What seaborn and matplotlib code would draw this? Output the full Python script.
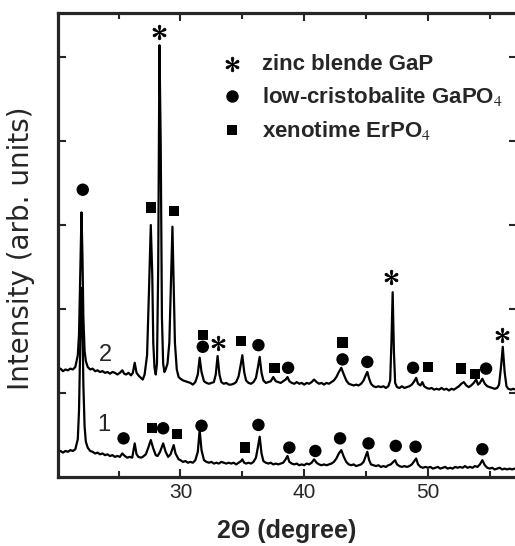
import matplotlib
matplotlib.use("Agg")
import matplotlib.pyplot as plt
import seaborn as sns
import pandas as pd

# ---------------- data ----------------
x2 = [20.1, 20.3, 20.5, 20.7, 20.9, 21.1, 21.3, 21.5, 21.7, 21.8, 21.9, 22.0, 22.08, 22.15, 22.25, 22.35,
      22.5, 22.7, 22.9, 23.1, 23.3, 23.5, 23.7, 23.9, 24.1, 24.3, 24.5, 24.7, 24.9, 25.1, 25.3, 25.45,
      25.6, 25.8, 26.0, 26.15, 26.3, 26.45, 26.6, 26.8, 26.95, 27.1, 27.3, 27.45, 27.6, 27.72, 27.8, 27.9,
      28.0, 28.1, 28.2, 28.3, 28.4, 28.5, 28.6, 28.7, 28.8, 28.95, 29.1, 29.25, 29.35, 29.45, 29.55, 29.7,
      29.85, 30.0, 30.2, 30.4, 30.6, 30.8, 31.0, 31.2, 31.4, 31.55, 31.7, 31.9, 32.1, 32.3, 32.5, 32.7,
      32.85, 33.0, 33.15, 33.3, 33.5, 33.7, 33.9, 34.1, 34.3, 34.5, 34.7, 34.85, 35.0, 35.15, 35.3, 35.5,
      35.7, 35.9, 36.1, 36.25, 36.4, 36.55, 36.7, 36.9, 37.1, 37.3, 37.5, 37.7, 37.9, 38.1, 38.3, 38.5,
      38.65, 38.8, 39.0, 39.2, 39.4, 39.6, 39.8, 40.0, 40.2, 40.4, 40.6, 40.8, 41.0, 41.2, 41.4, 41.6,
      41.8, 42.0, 42.2, 42.4, 42.6, 42.8, 43.0, 43.2, 43.4, 43.6, 43.8, 44.0, 44.2, 44.4, 44.6, 44.8,
      45.0, 45.1, 45.25, 45.4, 45.6, 45.8, 46.0, 46.2, 46.4, 46.6, 46.8, 46.95, 47.05, 47.15, 47.25, 47.35,
      47.5, 47.7, 47.9, 48.1, 48.3, 48.5, 48.7, 48.9, 49.05, 49.2, 49.4, 49.55, 49.7, 49.9, 50.1, 50.3,
      50.5, 50.7, 50.9, 51.1, 51.3, 51.5, 51.7, 51.9, 52.1, 52.3, 52.5, 52.7, 52.9, 53.1, 53.3, 53.5,
      53.7, 53.9, 54.05, 54.2, 54.4, 54.6, 54.8, 55.0, 55.2, 55.4, 55.6, 55.75, 55.9, 56.05, 56.2, 56.35,
      56.5, 56.7, 56.9, 57.1, 57.2]
y2 = [1.27, 1.29, 1.26, 1.28, 1.27, 1.29, 1.28, 1.31, 1.45, 1.70, 2.40, 3.15, 2.60, 1.90, 1.50, 1.38,
      1.31, 1.28, 1.29, 1.26, 1.27, 1.25, 1.26, 1.24, 1.25, 1.23, 1.25, 1.24, 1.22, 1.24, 1.27, 1.23,
      1.22, 1.24, 1.21, 1.24, 1.36, 1.24, 1.21, 1.18, 1.16, 1.22, 1.45, 2.20, 3.00, 2.40, 1.60, 1.30,
      1.22, 1.35, 2.50, 5.14, 4.00, 1.90, 1.35, 1.25, 1.28, 1.35, 1.60, 2.40, 2.98, 2.30, 1.60, 1.28,
      1.19, 1.17, 1.15, 1.14, 1.13, 1.12, 1.10, 1.13, 1.22, 1.42, 1.25, 1.14, 1.12, 1.11, 1.12, 1.13,
      1.22, 1.44, 1.22, 1.13, 1.11, 1.12, 1.10, 1.10, 1.11, 1.13, 1.20, 1.32, 1.45, 1.25, 1.15, 1.12,
      1.11, 1.13, 1.18, 1.30, 1.43, 1.24, 1.15, 1.12, 1.13, 1.14, 1.19, 1.14, 1.13, 1.12, 1.14, 1.16,
      1.19, 1.14, 1.12, 1.11, 1.13, 1.11, 1.12, 1.10, 1.12, 1.11, 1.13, 1.16, 1.13, 1.11, 1.12, 1.10,
      1.12, 1.11, 1.13, 1.15, 1.19, 1.25, 1.30, 1.22, 1.15, 1.11, 1.10, 1.09, 1.10, 1.09, 1.11, 1.15,
      1.22, 1.25, 1.17, 1.11, 1.08, 1.07, 1.08, 1.07, 1.08, 1.06, 1.08, 1.15, 1.60, 2.20, 1.50, 1.12,
      1.07, 1.06, 1.08, 1.06, 1.07, 1.08, 1.10, 1.14, 1.18, 1.11, 1.09, 1.13, 1.08, 1.06, 1.05, 1.06,
      1.04, 1.05, 1.04, 1.06, 1.04, 1.05, 1.03, 1.05, 1.04, 1.06, 1.08, 1.11, 1.13, 1.09, 1.07, 1.09,
      1.12, 1.16, 1.10, 1.12, 1.17, 1.11, 1.08, 1.07, 1.06, 1.05, 1.06, 1.10, 1.30, 1.55, 1.25, 1.08,
      1.05, 1.04, 1.05, 1.04, 1.05]

x1 = [20.1, 20.3, 20.5, 20.7, 20.9, 21.1, 21.3, 21.5, 21.7, 21.8, 21.9, 22.0, 22.08, 22.15, 22.25, 22.35,
      22.5, 22.7, 22.9, 23.1, 23.3, 23.5, 23.7, 23.9, 24.1, 24.3, 24.5, 24.7, 24.9, 25.1, 25.3, 25.5,
      25.7, 25.9, 26.1, 26.3, 26.45, 26.6, 26.8, 26.95, 27.2, 27.4, 27.6, 27.8, 28.0, 28.15, 28.35, 28.6,
      28.8, 29.0, 29.2, 29.45, 29.6, 29.85, 30.0, 30.2, 30.4, 30.6, 30.8, 31.0, 31.2, 31.4, 31.55, 31.7,
      31.9, 32.1, 32.3, 32.5, 32.7, 32.9, 33.1, 33.3, 33.5, 33.7, 33.9, 34.1, 34.3, 34.5, 34.7, 34.9,
      35.0, 35.15, 35.3, 35.5, 35.7, 35.9, 36.1, 36.25, 36.4, 36.55, 36.7, 36.9, 37.1, 37.3, 37.5, 37.7,
      37.9, 38.1, 38.3, 38.5, 38.65, 38.8, 39.0, 39.2, 39.4, 39.6, 39.8, 40.0, 40.2, 40.4, 40.6, 40.8,
      41.0, 41.2, 41.4, 41.6, 41.8, 42.0, 42.2, 42.4, 42.6, 42.8, 43.0, 43.2, 43.4, 43.6, 43.8, 44.0,
      44.2, 44.4, 44.6, 44.8, 45.0, 45.1, 45.25, 45.4, 45.6, 45.8, 46.0, 46.2, 46.4, 46.6, 46.8, 47.0,
      47.2, 47.35, 47.5, 47.7, 47.9, 48.1, 48.3, 48.5, 48.7, 48.9, 49.05, 49.2, 49.4, 49.6, 49.8, 50.0,
      50.2, 50.4, 50.6, 50.8, 51.0, 51.2, 51.4, 51.6, 51.8, 52.0, 52.2, 52.4, 52.6, 52.8, 53.0, 53.2,
      53.4, 53.6, 53.8, 54.0, 54.2, 54.4, 54.6, 54.8, 55.0, 55.2, 55.4, 55.6, 55.8, 56.0, 56.2, 56.4,
      56.6, 56.8, 57.0, 57.2]
y1 = [0.30, 0.31, 0.29, 0.31, 0.30, 0.32, 0.31, 0.33, 0.45, 0.80, 1.60, 2.25, 1.80, 1.10, 0.60, 0.42,
      0.35, 0.31, 0.30, 0.28, 0.29, 0.27, 0.28, 0.26, 0.27, 0.25, 0.26, 0.24, 0.25, 0.24, 0.28, 0.25,
      0.23, 0.24, 0.23, 0.40, 0.27, 0.24, 0.23, 0.24, 0.27, 0.35, 0.44, 0.34, 0.26, 0.25, 0.30, 0.40,
      0.30, 0.24, 0.27, 0.38, 0.28, 0.21, 0.20, 0.18, 0.19, 0.17, 0.18, 0.17, 0.20, 0.30, 0.56, 0.32,
      0.20, 0.18, 0.17, 0.18, 0.16, 0.17, 0.16, 0.18, 0.17, 0.16, 0.17, 0.16, 0.17, 0.15, 0.17, 0.19,
      0.21, 0.17, 0.16, 0.17, 0.16, 0.18, 0.23, 0.35, 0.48, 0.28, 0.19, 0.17, 0.16, 0.17, 0.15, 0.16,
      0.15, 0.16, 0.17, 0.21, 0.25, 0.18, 0.16, 0.15, 0.16, 0.14, 0.15, 0.14, 0.16, 0.15, 0.17, 0.21,
      0.17, 0.15, 0.14, 0.15, 0.14, 0.15, 0.16, 0.18, 0.22, 0.28, 0.32, 0.24, 0.18, 0.15, 0.14, 0.15,
      0.13, 0.14, 0.15, 0.18, 0.26, 0.30, 0.20, 0.15, 0.14, 0.13, 0.14, 0.12, 0.13, 0.12, 0.14, 0.15,
      0.18, 0.20, 0.15, 0.13, 0.12, 0.13, 0.12, 0.13, 0.15, 0.19, 0.22, 0.15, 0.12, 0.11, 0.12, 0.11,
      0.12, 0.10, 0.11, 0.12, 0.10, 0.11, 0.12, 0.10, 0.11, 0.10, 0.12, 0.11, 0.12, 0.11, 0.13, 0.11,
      0.12, 0.11, 0.13, 0.12, 0.15, 0.20, 0.14, 0.11, 0.10, 0.11, 0.09, 0.10, 0.11, 0.09, 0.10, 0.09,
      0.10, 0.09, 0.10, 0.09]

# phase markers (peak assignments)
gap_x = [28.3, 33.0, 47.0, 56.0]
gap_y = [5.30, 1.60, 2.38, 1.69]
cris2_x = [22.1, 31.8, 36.3, 38.7, 43.1, 45.1, 48.8, 54.7]
cris2_y = [3.42, 1.55, 1.57, 1.30, 1.40, 1.37, 1.30, 1.29]
xen2_x = [27.6, 29.45, 31.8, 34.9, 37.6, 43.1, 50.0, 52.7, 53.8]
xen2_y = [3.21, 3.17, 1.69, 1.62, 1.30, 1.60, 1.31, 1.29, 1.23]
cris1_x = [25.4, 28.6, 31.7, 36.3, 38.8, 40.9, 42.9, 45.2, 47.4, 49.0, 54.4]
cris1_y = [0.46, 0.58, 0.61, 0.62, 0.35, 0.31, 0.46, 0.40, 0.37, 0.36, 0.33]
xen1_x = [27.7, 29.7, 35.2]
xen1_y = [0.58, 0.51, 0.35]

legend_labels = ["zinc blende GaP", "low-cristobalite GaPO$_4$", "xenotime ErPO$_4$"]
x_ticks = [30, 40, 50]
trace_labels = ["1", "2"]

# ---------------- plot ----------------
sns.set_style("ticks")
plt.rcParams['font.family'] = ['Liberation Sans', 'DejaVu Sans']
plt.rcParams['mathtext.fontset'] = 'stix'

W, H = 515, 546
fig = plt.figure(figsize=(W / 100, H / 100), dpi=100)
L, R, B, T = 58, 517, 477, 13
ax = fig.add_axes([L / W, 1 - B / H, (R - L) / W, (B - T) / H])

df1 = pd.DataFrame({"x": x1, "y": y1})
df2 = pd.DataFrame({"x": x2, "y": y2})
sns.lineplot(data=df1, x="x", y="y", ax=ax, color="black", lw=1.6, sort=False, estimator=None)
sns.lineplot(data=df2, x="x", y="y", ax=ax, color="black", lw=1.6, sort=False, estimator=None)

star = r"$\ast$"
STAR_S, CIRC_S, SQ_S = 110, 80, 55
sns.scatterplot(x=gap_x, y=gap_y, ax=ax, marker=star, s=STAR_S, color="black", edgecolor="black", linewidth=0.6)
sns.scatterplot(x=cris2_x + cris1_x, y=cris2_y + cris1_y, ax=ax, marker="o", s=CIRC_S, color="black", edgecolor="none")
sns.scatterplot(x=xen2_x + xen1_x, y=xen2_y + xen1_y, ax=ax, marker="s", s=SQ_S, color="black", edgecolor="none")

ax.text(23.9, 1.45, trace_labels[1], fontsize=17, ha="center", va="center")
ax.text(23.8, 0.62, trace_labels[0], fontsize=17, ha="center", va="center")

# legend drawn manually
lx_m, lx_t = (232 - L) / (R - L), (262 - L) / (R - L)
rows = [(B - 64) / (B - T), (B - 96) / (B - T), (B - 130) / (B - T)]
lmarkers = [(star, STAR_S), ("o", CIRC_S), ("s", SQ_S)]
for (mk, s), yy, lab in zip(lmarkers, rows, legend_labels):
    ax.scatter([lx_m], [yy], marker=mk, s=s, color="black", transform=ax.transAxes, clip_on=False,
               linewidth=0.6 if mk == star else 0)
    ax.text(lx_t, yy, lab, transform=ax.transAxes, fontsize=16, fontweight="bold", ha="left", va="center")

ax.set_xlim(20.1, 57.2)
ax.set_ylim(0, (B - T) / 84)
ax.set_xticks(x_ticks)
ax.set_xticklabels([str(t) for t in x_ticks])
ax.set_xticks([25, 35, 45, 55], minor=True)
ax.set_yticks([1, 2, 3, 4, 5])
ax.set_yticklabels([])
ax.tick_params(axis="both", which="major", direction="in", length=6, width=1.5, top=True, right=True,
               labelsize=15, pad=4)
ax.tick_params(axis="both", which="minor", direction="in", length=4, width=1.5, top=True, right=True)
for sp in ax.spines.values():
    sp.set_visible(True)
    sp.set_linewidth(2.3)

ax.set_xlabel("2Θ (degree)", fontsize=18, fontweight="bold")
ax.xaxis.set_label_coords((287 - L) / (R - L), (B - 519) / (B - T))
ax.set_ylabel("Intensity (arb. units)", fontsize=20, family="DejaVu Sans")
ax.yaxis.set_label_coords((35 - L) / (R - L), (B - 248) / (B - T))

fig.savefig("out.png", dpi=100)
